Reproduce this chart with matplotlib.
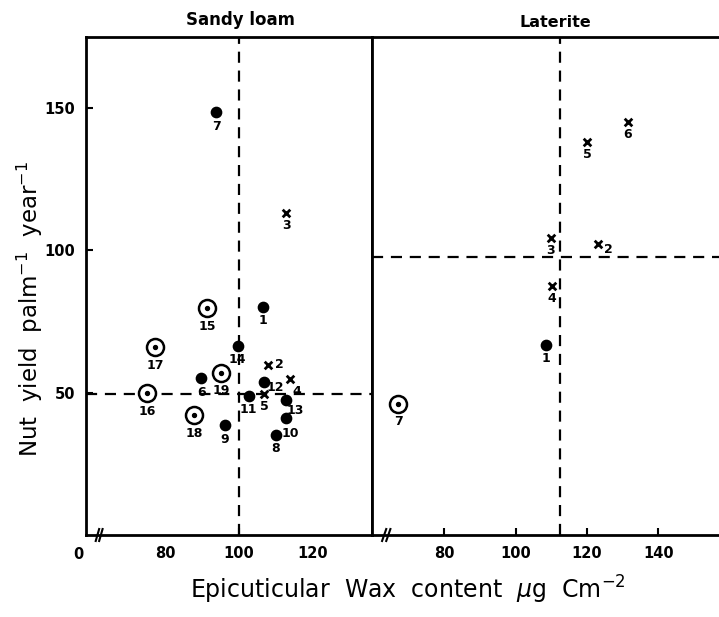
import matplotlib
matplotlib.use('Agg')
import matplotlib.pyplot as plt

# Sandy loam
sl_dot_id = [1, 6, 7, 8, 9, 10, 11, 12, 13, 14]
sl_dot_x = [106.4, 89.7, 93.8, 109.9, 96.2, 112.7, 102.6, 106.8, 112.7, 99.6]
sl_dot_y = [80.1, 55.1, 148.5, 35.2, 38.6, 41.0, 49.0, 53.7, 47.3, 66.4]

sl_cross_id = [2, 3, 4, 5]
sl_cross_x = [107.9, 112.7, 113.8, 106.8]
sl_cross_y = [59.9, 113.0, 54.7, 49.5]

sl_ring_id = [15, 16, 17, 18, 19]
sl_ring_x = [91.3, 75.1, 77.2, 87.9, 95.1]
sl_ring_y = [79.7, 49.9, 66.0, 42.1, 57.0]

sl_media_x = 100.0
sl_media_y = 49.7

# Laterite
lat_dot_id = [1]
lat_dot_x = [108.5]
lat_dot_y = [66.9]

lat_cross_id = [2, 3, 4, 5, 6]
lat_cross_x = [123.2, 109.9, 110.1, 120.0, 131.5]
lat_cross_y = [102.4, 104.4, 87.4, 138.3, 145.3]

lat_ring_id = [7]
lat_ring_x = [67.1]
lat_ring_y = [46.2]

lat_media_x = 112.6
lat_media_y = 97.7

# desplazamiento de algunas etiquetas (el resto va debajo)
sl_off = {2: (8, 0), 10: (3, -11), 12: (8, -4), 13: (7, -7), 4: (5, -9)}
lat_off = {2: (7, -4)}

fig = plt.figure(figsize=(7.19, 6.17), dpi=100)
ax1 = fig.add_axes([0.1196, 0.1329, 0.3978, 0.807])
ax2 = fig.add_axes([0.5174, 0.1329, 0.4826, 0.807])

bold = dict(fontweight='bold', family='DejaVu Sans')


def dibujar(ax, dx, dy, did, cx, cy, cid, rx, ry, rid, desp):
    ax.scatter(dx, dy, s=55, color='black', zorder=3)
    ax.scatter(cx, cy, s=30, marker='x', color='black', linewidths=2, zorder=3)
    ax.scatter(rx, ry, s=150, facecolors='white', edgecolors='black', linewidths=1.8, zorder=3)
    ax.scatter(rx, ry, s=8, color='black', zorder=4)
    for xs, ys, ids, dbajo in [(dx, dy, did, -10), (cx, cy, cid, -9), (rx, ry, rid, -13)]:
        for x, y, n in zip(xs, ys, ids):
            off = desp.get(n, (0, dbajo))
            ax.annotate(str(n), (x, y), xytext=off, textcoords='offset points',
                        ha='center', va='center', fontsize=9, **bold)


dibujar(ax1, sl_dot_x, sl_dot_y, sl_dot_id, sl_cross_x, sl_cross_y, sl_cross_id,
        sl_ring_x, sl_ring_y, sl_ring_id, sl_off)
dibujar(ax2, lat_dot_x, lat_dot_y, lat_dot_id, lat_cross_x, lat_cross_y, lat_cross_id,
        lat_ring_x, lat_ring_y, lat_ring_id, lat_off)

for ax, mx, my in [(ax1, sl_media_x, sl_media_y), (ax2, lat_media_x, lat_media_y)]:
    ax.axvline(mx, color='black', lw=1.6, ls=(0, (5, 3.5)), zorder=2)
    ax.axhline(my, color='black', lw=1.6, ls=(0, (5, 3.5)), zorder=2)

ax1.set_xlim(58.5, 136)
ax1.set_ylim(0, 175)
ax2.set_xlim(59.8, 157)
ax2.set_ylim(0, 175)

for ax in [ax1, ax2]:
    for s in ax.spines.values():
        s.set_linewidth(2)
    ax.tick_params(direction='in', length=5, width=1.5, labelsize=10.5, pad=8)

ax2.spines['right'].set_visible(False)

ax1.set_xticks([80, 100, 120])
ax1.set_yticks([50, 100, 150])
for t in ax1.get_xticklabels() + ax1.get_yticklabels():
    t.set_fontweight('bold')
# en el panel izquierdo solo se ve la marca de 100
for i, t in enumerate(ax1.xaxis.get_major_ticks()):
    if i != 1:
        t.tick1line.set_visible(False)

ax2.set_xticks([80, 100, 120, 140])
ax2.set_yticks([])
for t in ax2.get_xticklabels():
    t.set_fontweight('bold')

# marcas de corte del eje x
for ax, x0 in [(ax1, 0.04), (ax2, 0.035)]:
    for d in [0, 0.012]:
        ax.plot([x0 + d - 0.006, x0 + d + 0.006], [-0.012, 0.012], transform=ax.transAxes,
                color='black', lw=1.5, clip_on=False)

ax1.text(-0.01, -0.025, '0', transform=ax1.transAxes, ha='right', va='top', fontsize=10.5, **bold)

fig.text(0.334, 0.968, 'Sandy loam', ha='center', va='center', fontsize=12, **bold)
fig.text(0.772, 0.963, 'Laterite', ha='center', va='center', fontsize=11.5, **bold)

fig.text(0.568, 0.044, r'Epicuticular  Wax  content  $\mu$g  Cm$^{-2}$', ha='center', va='center',
         fontsize=17)
fig.text(0.042, 0.50, r'Nut  yield  palm$^{-1}$  year$^{-1}$', rotation=90, ha='center',
         va='center', fontsize=16.5)

fig.savefig('out.png', dpi=100)
